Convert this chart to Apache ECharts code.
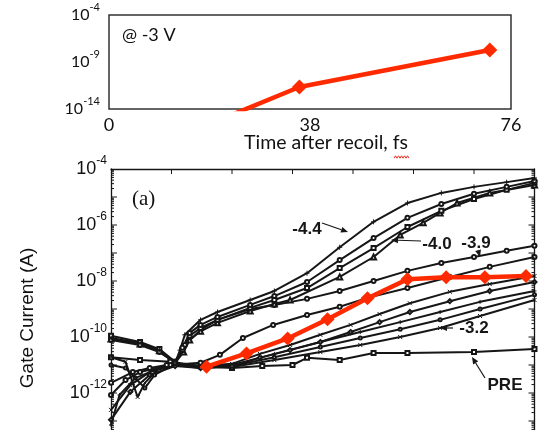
<!DOCTYPE html>
<html>
<head>
<meta charset="utf-8">
<script src="https://cdn.jsdelivr.net/npm/echarts@6/dist/echarts.min.js"></script>
<style>
  html, body { margin: 0; padding: 0; background: #fff; }
  #chart { width: 548px; height: 430px; }
</style>
</head>
<body>
<div id="chart"></div>
<script>
// ---------- Upper panel: gate current at -3 V vs. time after recoil ----------
const recoilTime = [0, 36, 72];
const recoilCurrent = [1e-20, 2.2e-12, 1.9e-8];
const recoilTimeTicks = [0, 38, 76];
const recoilCurrentTicks = [1e-14, 1e-9, 1e-4];

// ---------- Lower panel (a): gate current sweeps, |V| = 0 .. 3.5 ----------
const sweepVoltageTicks = [0.5, 1, 1.5, 2, 2.5, 3];
const sweepCurrentTicks = [1e-12, 1e-10, 1e-8, 1e-6, 1e-4];
const sweepDecades = [1e-13, 1e-12, 1e-11, 1e-10, 1e-9, 1e-8, 1e-7, 1e-6, 1e-5];

// stress -4.4 V (crosses)
const sweepM44 = [[0,9.2e-11],[0.24,6.1e-11],[0.4,3.4e-11],[0.53,1.2e-11],[0.57,3.4e-11],[0.61,1.2e-10],[0.74,4.1e-10],[0.88,7.8e-10],[1.15,2.1e-9],[1.35,4.4e-9],[1.62,1.9e-8],[1.89,1.6e-7],[2.17,1.3e-6],[2.45,6.1e-6],[2.73,1.4e-5],[3.0,2.3e-5],[3.27,3.4e-5],[3.5,4.8e-5]];
const sweepM42 = [[0,7.8e-11],[0.24,5.2e-11],[0.4,2.9e-11],[0.53,1.2e-11],[0.59,4.1e-11],[0.65,1.4e-10],[0.74,2.7e-10],[0.88,5.2e-10],[1.15,1.4e-9],[1.35,2.9e-9],[1.62,9.2e-9],[1.89,5.6e-8],[2.17,3.4e-7],[2.45,1.8e-6],[2.73,5.6e-6],[3.0,1.3e-5],[3.27,2.3e-5],[3.5,3.7e-5]];
const sweepM41 = [[0,1.1e-10],[0.24,6.6e-11],[0.4,3.7e-11],[0.53,1.3e-11],[0.59,3.4e-11],[0.65,1.1e-10],[0.74,2.1e-10],[0.88,4.1e-10],[1.15,1.1e-9],[1.35,2.1e-9],[1.62,5.6e-9],[1.89,2.9e-8],[2.17,1.5e-7],[2.45,8.5e-7],[2.73,3.2e-6],[3.0,8.5e-6],[3.27,1.8e-5],[3.5,3.2e-5]];
// stress -4.0 V (triangles)
const sweepM40 = [[0,8.5e-11],[0.24,5.6e-11],[0.4,3.2e-11],[0.53,1.2e-11],[0.6,2.9e-11],[0.65,7.8e-11],[0.74,1.6e-10],[0.88,3.2e-10],[1.15,8.5e-10],[1.35,1.5e-9],[1.48,2.1e-9],[1.89,1.4e-8],[2.17,7.2e-8],[2.39,4.4e-7],[2.58,1.2e-6],[2.72,2.7e-6],[2.86,6.1e-6],[3.13,1.4e-5],[3.5,2.7e-5]];
// stress -3.9 V (circles)
const sweepM39 = [[0,2.3e-12],[0.18,5.6e-12],[0.32,7.8e-12],[0.46,1.0e-11],[0.53,1.2e-11],[0.61,5.2e-11],[0.74,1.8e-10],[0.88,4.1e-10],[1.15,1.0e-9],[1.35,1.4e-9],[1.62,2.3e-9],[1.89,4.4e-9],[2.17,1.0e-8],[2.45,2.3e-8],[2.73,4.4e-8],[3.0,7.2e-8],[3.27,1.2e-7],[3.5,1.8e-7]];
const sweepM38 = [[0,8.5e-13],[0.12,2.9e-12],[0.24,5.6e-12],[0.49,1.0e-11],[0.74,1.2e-11],[0.9,2.3e-11],[1.09,9.2e-11],[1.34,2.7e-10],[1.62,6.1e-10],[1.89,1.2e-9],[2.12,2.5e-9],[2.45,5.6e-9],[2.8,1.4e-8],[3.13,3.2e-8],[3.5,7.2e-8]];
const sweepM36 = [[0,2.5e-13],[0.16,1.9e-12],[0.32,5.6e-12],[0.53,1.0e-11],[0.74,9.2e-12],[1.0,1.1e-11],[1.23,2.5e-11],[1.48,5.2e-11],[1.73,1.2e-10],[1.98,2.7e-10],[2.22,6.6e-10],[2.47,1.6e-9],[2.8,4.1e-9],[3.13,7.8e-9],[3.5,1.5e-8]];
const sweepM34 = [[0,1.1e-13],[0.16,1.1e-12],[0.32,4.4e-12],[0.53,9.2e-12],[0.74,7.8e-12],[1.0,9.2e-12],[1.23,1.8e-11],[1.48,3.4e-11],[1.73,6.6e-11],[1.98,1.5e-10],[2.22,3.4e-10],[2.47,7.8e-10],[2.8,1.9e-9],[3.13,4.4e-9],[3.5,9.2e-9]];
// stress -3.2 V family
const sweepM32 = [[0,1.9e-11],[0.12,1.3e-11],[0.18,2.3e-12],[0.22,7.2e-13],[0.28,2.3e-12],[0.4,7.8e-12],[0.53,1.0e-11],[0.74,7.8e-12],[1.0,8.5e-12],[1.35,1.5e-11],[1.73,2.9e-11],[2.06,5.2e-11],[2.39,1.0e-10],[2.72,2.1e-10],[3.05,5.6e-10],[3.5,2.1e-9]];
const sweepM33 = [[0,1.0e-11],[0.12,7.8e-12],[0.2,3.4e-12],[0.28,1.5e-12],[0.36,4.4e-12],[0.53,1.1e-11],[0.74,8.5e-12],[1.0,9.2e-12],[1.35,1.9e-11],[1.73,4.4e-11],[2.06,9.2e-11],[2.39,1.9e-10],[2.72,4.1e-10],[3.05,1.0e-9],[3.5,3.2e-9]];
const sweepM335 = [[0,7.2e-14],[0.07,8.5e-13],[0.2,3.4e-12],[0.36,6.6e-12],[0.53,1.1e-11],[0.74,9.2e-12],[1.0,1.0e-11],[1.35,2.5e-11],[1.73,6.6e-11],[2.06,1.5e-10],[2.39,3.4e-10],[2.72,7.8e-10],[3.05,1.8e-9],[3.5,4.4e-9]];
// before stress
const sweepPre = [[0,1.9e-11],[0.24,1.5e-11],[0.49,1.3e-11],[0.74,9.2e-12],[1.0,7.8e-12],[1.25,9.2e-12],[1.5,1.0e-11],[1.62,1.8e-11],[1.89,1.5e-11],[2.17,2.7e-11],[2.45,2.7e-11],[3.0,2.9e-11],[3.5,3.7e-11]];
// recoil-time trace mapped onto the sweep
const sweepRecoil = [[0.79,8.7e-12],[1.12,2.6e-11],[1.46,8.9e-11],[1.79,4.3e-10],[2.12,2.4e-9],[2.45,1.15e-8],[2.77,1.35e-8],[3.09,1.35e-8],[3.43,1.5e-8]];

// ---------- styling helpers ----------
const ink = '#161616';
const red = '#ff2a00';
const crossPath = 'path://M0,0L10,10M10,0L0,10';
const plusPath = 'path://M5,0L5,10M0,5L10,5';

const minorTicks = [];
for (let e = -14; e < -4; e++) {
  for (let m = 2; m < 10; m++) minorTicks.push(m * Math.pow(10, e));
}

// inward tick marks of the lower frame: [x, y, length, vertical?]
const frameTicks = [];
sweepDecades.forEach(v => { frameTicks.push([0, v, 6, 0]); frameTicks.push([3.5, v, -6, 0]); });
minorTicks.forEach(v => { frameTicks.push([0, v, 3, 0]); frameTicks.push([3.5, v, -3, 0]); });
sweepVoltageTicks.forEach(x => { frameTicks.push([x, 1e-4, 5, 1]); });

function powLabel(v) {
  const e = Math.round(Math.log10(v));
  return '{b|10}{s|' + e + '}';
}

function sweepSeries(data, symbol, size) {
  return {
    type: 'line', xAxisIndex: 1, yAxisIndex: 1, data: data,
    symbol: symbol, symbolSize: size || 4, z: 2,
    lineStyle: { color: ink, width: 2 },
    itemStyle: { color: ink, borderColor: ink, borderWidth: 1 },
    emphasis: { disabled: true }
  };
}

function arrow(x1, y1, x2, y2) {
  const a = Math.atan2(y2 - y1, x2 - x1), L = 7, W = 3;
  const bx = x2 - L * Math.cos(a), by = y2 - L * Math.sin(a);
  return [
    { type: 'line', shape: { x1: x1, y1: y1, x2: bx, y2: by }, style: { stroke: ink, lineWidth: 1.2 } },
    { type: 'polygon', shape: { points: [[x2, y2], [bx - W * Math.sin(a), by + W * Math.cos(a)], [bx + W * Math.sin(a), by - W * Math.cos(a)]] }, style: { fill: ink } }
  ];
}

function note(text, x, y) {
  return {
    type: 'text', x: x, y: y,
    style: { text: text, fill: ink, fontSize: 17, fontWeight: 'bold', fontFamily: 'Liberation Sans', align: 'center', verticalAlign: 'middle' }
  };
}

// wavy underline under "fs"
const wave = [];
for (let i = 0; i <= 10; i++) wave.push([394 + i * 1.5, 157 + (i % 2 ? -1.2 : 1.2)]);

const chart = echarts.init(document.getElementById('chart'));
chart.setOption({
  animation: false,
  backgroundColor: '#ffffff',
  grid: [
    { left: 109, top: 15, width: 402, height: 94, outerBoundsMode: 'none', containLabel: false, show: true, borderColor: '#333', borderWidth: 1.5, backgroundColor: 'transparent' },
    { left: 111, top: 169, width: 423.5, height: 280, outerBoundsMode: 'none', containLabel: false }
  ],
  xAxis: [
    {
      type: 'value', gridIndex: 0, min: 0, max: 76, interval: 38,
      axisLine: { show: false, onZero: false }, axisTick: { show: false }, splitLine: { show: false },
      axisLabel: { margin: 7, color: '#111', fontFamily: 'Lato', fontSize: 18 }
    },
    {
      type: 'value', gridIndex: 1, position: 'top', min: 0, max: 3.5,
      axisLine: { show: true, onZero: false, lineStyle: { color: ink, width: 1.3 } },
      axisTick: { show: false }, axisLabel: { show: false }, splitLine: { show: false }
    }
  ],
  yAxis: [
    {
      type: 'log', logBase: 10, gridIndex: 0, min: 1e-14, max: 1e-4,
      axisLine: { show: false, onZero: false }, axisTick: { show: false }, splitLine: { show: false },
      axisLabel: {
        customValues: recoilCurrentTicks, formatter: powLabel, margin: 9,
        rich: {
          b: { fontFamily: 'Lato', fontSize: 16, lineHeight: 26, color: '#111' },
          s: { fontFamily: 'Lato', fontSize: 11, lineHeight: 11, verticalAlign: 'top', color: '#111' }
        }
      }
    },
    {
      type: 'log', logBase: 10, gridIndex: 1, min: 1e-14, max: 1e-4, position: 'left',
      axisLine: { show: true, onZero: false, lineStyle: { color: ink, width: 1.3 } },
      axisTick: { show: false }, splitLine: { show: false },
      axisLabel: {
        show: true, customValues: sweepCurrentTicks, formatter: powLabel, margin: 4,
        rich: {
          b: { fontFamily: 'Liberation Sans', fontSize: 18, lineHeight: 28, color: '#111' },
          s: { fontFamily: 'Liberation Sans', fontSize: 12, lineHeight: 12, verticalAlign: 'top', color: '#111' }
        }
      }
    },
    {
      type: 'log', logBase: 10, gridIndex: 1, min: 1e-14, max: 1e-4, position: 'right',
      axisLine: { show: true, onZero: false, lineStyle: { color: ink, width: 1.3 } },
      axisTick: { show: false }, axisLabel: { show: false }, splitLine: { show: false }
    }
  ],
  series: [
    {
      type: 'line', xAxisIndex: 0, yAxisIndex: 0, clip: true, z: 3,
      data: recoilTime.map((t, i) => [t, recoilCurrent[i]]),
      symbol: 'diamond', symbolSize: 15,
      lineStyle: { color: red, width: 4.5 },
      itemStyle: { color: red },
      emphasis: { disabled: true }
    },
    {
      type: 'custom', xAxisIndex: 1, yAxisIndex: 1, clip: false, silent: true, z: 5,
      data: frameTicks,
      encode: { x: 0, y: 1 },
      renderItem: function (params, api) {
        const p = api.coord([api.value(0), api.value(1)]);
        const len = api.value(2);
        const vertical = api.value(3) === 1;
        return {
          type: 'line',
          shape: vertical
            ? { x1: p[0], y1: p[1], x2: p[0], y2: p[1] + len }
            : { x1: p[0], y1: p[1], x2: p[0] + len, y2: p[1] },
          style: { stroke: ink, lineWidth: 1 }
        };
      }
    },
    sweepSeries(sweepPre, 'emptyRect', 4),
    sweepSeries(sweepM32, crossPath, 4),
    sweepSeries(sweepM33, 'emptyCircle', 3),
    sweepSeries(sweepM335, plusPath, 4),
    sweepSeries(sweepM34, 'emptyDiamond', 4),
    sweepSeries(sweepM36, crossPath, 4),
    sweepSeries(sweepM38, 'emptyCircle', 4),
    sweepSeries(sweepM39, 'emptyCircle', 4),
    sweepSeries(sweepM40, 'emptyTriangle', 5),
    sweepSeries(sweepM41, 'emptyRect', 4),
    sweepSeries(sweepM42, 'emptyCircle', 4),
    sweepSeries(sweepM44, plusPath, 5),
    {
      type: 'line', xAxisIndex: 1, yAxisIndex: 1, z: 4,
      data: sweepRecoil,
      symbol: 'diamond', symbolSize: 14,
      lineStyle: { color: red, width: 4.5 },
      itemStyle: { color: red },
      emphasis: { disabled: true }
    }
  ],
  graphic: [
    { type: 'text', x: 122, y: 35, style: { text: '@ -3 V', fill: '#111', fontSize: 18, fontFamily: 'Lato', verticalAlign: 'middle' } },
    { type: 'text', x: 326, y: 143, style: { text: 'Time after recoil, fs', fill: '#111', fontSize: 19.5, fontFamily: 'Lato', align: 'center', verticalAlign: 'middle' } },
    { type: 'polyline', shape: { points: wave }, style: { stroke: '#e8302a', lineWidth: 1, fill: null } },
    { type: 'text', x: 28, y: 318, rotation: Math.PI / 2, style: { text: 'Gate Current (A)', fill: '#111', fontSize: 19, fontFamily: 'Liberation Sans', align: 'center', verticalAlign: 'middle' } },
    { type: 'text', x: 132, y: 199, style: { text: '(a)', fill: '#111', fontSize: 21, fontFamily: 'Liberation Serif', verticalAlign: 'middle' } },
    note('-4.4', 307, 229),
    note('-4.0', 437, 244),
    note('-3.9', 476, 243),
    note('-3.2', 474, 328),
    note('PRE', 505, 385)
  ].concat(arrow(322, 223, 348, 232), arrow(421, 241, 391, 240), arrow(478, 250, 480, 257), arrow(453, 328, 440, 328), arrow(485, 378, 472, 357))
});
</script>
</body>
</html>
